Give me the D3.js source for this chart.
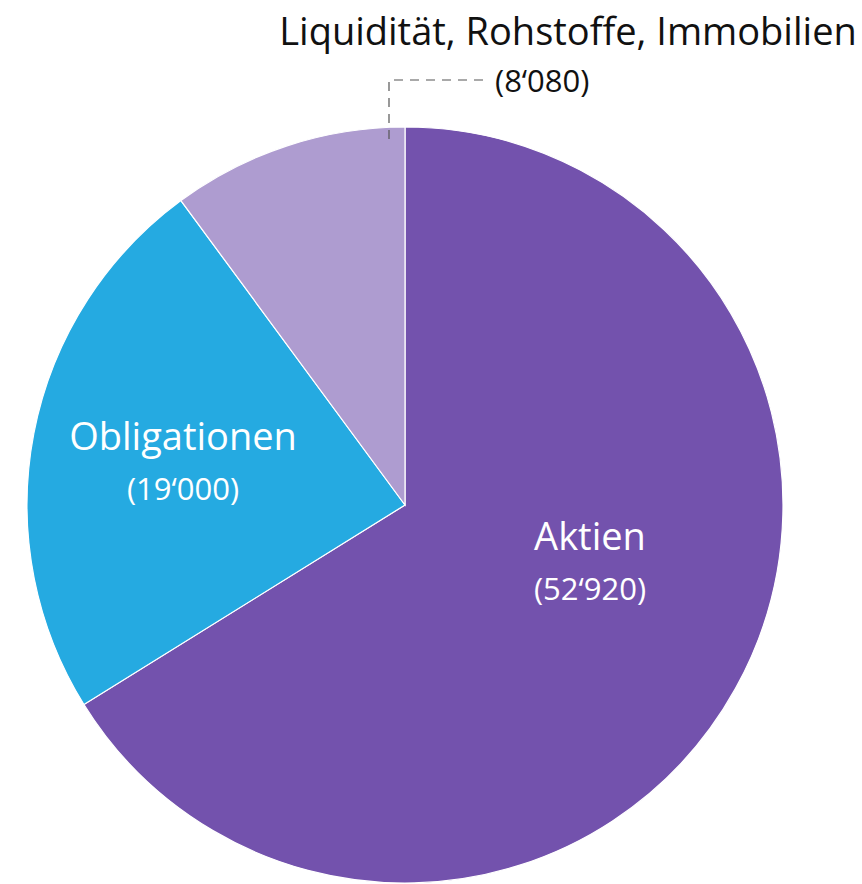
<!DOCTYPE html>
<html>
<head>
<meta charset="utf-8">
<script src="https://cdn.jsdelivr.net/npm/d3@7"></script>
<style>
  body { margin: 0; background: #fff; }
  svg text { font-family: "Open Sans", "Noto Sans", sans-serif; font-weight: 400; }
</style>
</head>
<body>
<svg id="chart" width="862" height="884"></svg>
<script>
// data
const categories = ["Aktien", "Obligationen", "Liquidität, Rohstoffe, Immobilien"];
const values = [52920, 19000, 8080];
const colors = ["#7352ad", "#25aae1", "#ae9cd0"];

const cx = 405, cy = 505, R = 378;

const svg = d3.select("#chart");
const g = svg.append("g").attr("transform", `translate(${cx},${cy})`);

const fmt = v => "(" + d3.format(",")(v).replace(/,/g, "\u2018") + ")";

const pie = d3.pie().sort(null).value(d => d.value);
const arc = d3.arc().innerRadius(0).outerRadius(R);

const data = categories.map((c, i) => ({ name: c, value: values[i], color: colors[i] }));
const arcs = pie(data);

g.selectAll("path.slice")
  .data(arcs)
  .join("path")
  .attr("class", "slice")
  .attr("d", arc)
  .attr("fill", d => d.data.color)
  .attr("stroke", "#fff")
  .attr("stroke-width", 1.2);

// inside labels (first two slices)
const labelPos = [[185, 45], [-222, -55]]; // offsets from centre
arcs.slice(0, 2).forEach((a, i) => {
  const [lx, ly] = labelPos[i];
  g.append("text")
    .attr("x", lx).attr("y", ly)
    .attr("text-anchor", "middle")
    .attr("fill", "#fff")
    .style("font-size", "38px")
    .text(a.data.name);
  g.append("text")
    .attr("x", lx).attr("y", ly + 50)
    .attr("text-anchor", "middle")
    .attr("fill", "#fff")
    .style("font-size", "31px")
    .text(fmt(a.data.value));
});

// small slice: outside label with dashed leader
const small = arcs[2];
const lx0 = -16; // near top edge of the slice
g.append("path")
  .attr("d", `M${lx0},${-R + 12} V${-425} H${78}`)
  .attr("fill", "none")
  .attr("stroke", "#555")
  .attr("stroke-width", 1.2)
  .attr("stroke-dasharray", "9,7");

svg.append("text")
  .attr("x", 568).attr("y", 45)
  .attr("text-anchor", "middle")
  .attr("fill", "#111")
  .style("font-size", "38px")
  .text(small.data.name);
svg.append("text")
  .attr("x", 495).attr("y", 92)
  .attr("text-anchor", "start")
  .attr("fill", "#111")
  .style("font-size", "31px")
  .text(fmt(small.data.value));
</script>
</body>
</html>
